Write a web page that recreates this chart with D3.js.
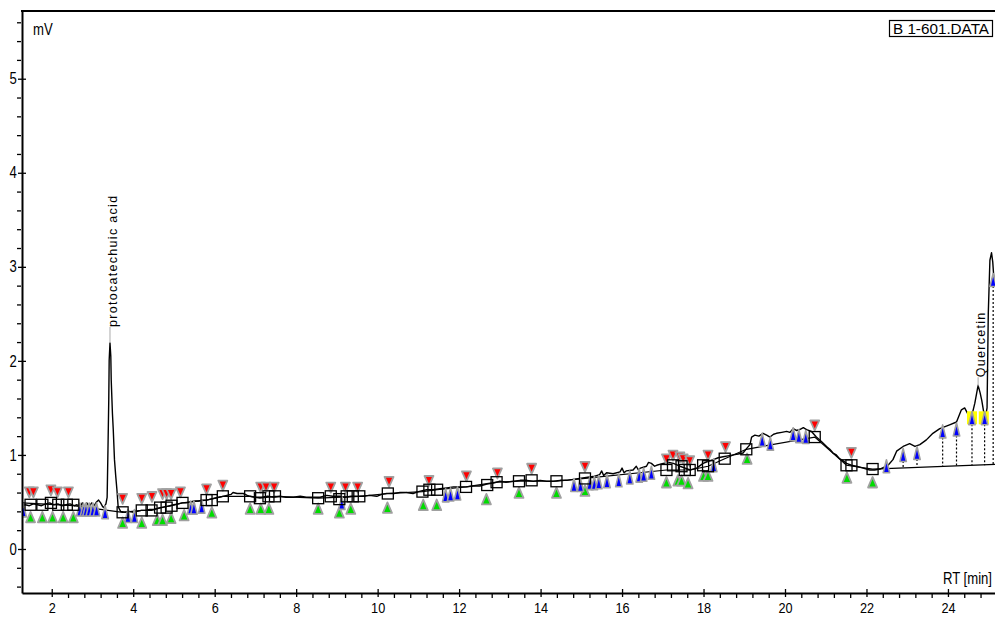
<!DOCTYPE html>
<html>
<head>
<meta charset="utf-8">
<script src="https://cdn.jsdelivr.net/npm/d3@7"></script>
<style>
  body { margin: 0; background: #fff; }
  svg { display: block; }
  text { font-family: "Liberation Sans", Arial, sans-serif; }
</style>
</head>
<body>
<svg id="chart" width="995" height="617"></svg>
<script>
// signal trace: [RT min, mV]
const trace = [
  [1.27,0.46],[1.35,0.47],[1.45,0.46],[1.55,0.48],[1.65,0.47],[1.75,0.46],[1.85,0.48],[1.95,0.49],
  [2.05,0.47],[2.15,0.48],[2.25,0.46],[2.35,0.47],[2.45,0.48],[2.55,0.46],[2.62,0.47],[2.70,0.45],
  [2.75,0.49],[2.80,0.45],[2.86,0.49],[2.92,0.45],[2.98,0.49],[3.04,0.46],[3.10,0.50],[3.15,0.52],
  [3.20,0.49],[3.25,0.45],[3.28,0.44],[3.33,0.48],[3.36,0.55],[3.38,1.05],[3.40,1.59],[3.41,2.01],
  [3.43,2.19],[3.45,2.05],[3.46,1.80],[3.49,1.44],[3.51,1.27],[3.54,0.95],[3.57,0.78],[3.60,0.63],
  [3.63,0.45],[3.69,0.40],[3.80,0.39],[3.90,0.40],[4.00,0.39],[4.10,0.40],[4.20,0.41],[4.30,0.41],
  [4.40,0.42],[4.50,0.42],[4.60,0.43],[4.70,0.44],[4.80,0.45],[4.90,0.46],[5.00,0.47],[5.10,0.48],
  [5.20,0.49],[5.30,0.49],[5.40,0.50],[5.50,0.51],[5.60,0.51],[5.70,0.52],[5.80,0.52],[5.90,0.53],
  [6.00,0.54],[6.10,0.55],[6.20,0.56],[6.30,0.57],[6.40,0.58],[6.45,0.60],[6.55,0.59],[6.70,0.59],
  [6.80,0.57],[6.87,0.56],[7.00,0.55],[7.15,0.55],[7.30,0.56],[7.45,0.55],[7.60,0.56],[7.75,0.55],
  [7.93,0.55],[8.10,0.56],[8.25,0.55],[8.42,0.55],[8.59,0.55],[8.75,0.57],[8.90,0.56],[9.07,0.56],
  [9.20,0.55],[9.35,0.56],[9.50,0.56],[9.65,0.56],[9.80,0.57],[9.98,0.56],[10.10,0.58],[10.22,0.59],
  [10.40,0.59],[10.55,0.60],[10.70,0.60],[10.87,0.59],[11.00,0.61],[11.20,0.63],[11.35,0.63],[11.53,0.64],
  [11.70,0.65],[11.86,0.66],[12.00,0.66],[12.18,0.66],[12.35,0.67],[12.51,0.67],[12.68,0.69],[12.84,0.70],
  [13.00,0.72],[13.15,0.71],[13.33,0.72],[13.50,0.73],[13.66,0.73],[13.82,0.72],[13.99,0.73],[14.15,0.72],
  [14.31,0.72],[14.48,0.73],[14.64,0.73],[14.80,0.74],[14.96,0.75],[15.12,0.76],[15.29,0.77],[15.45,0.79],
  [15.50,0.83],[15.55,0.78],[15.62,0.81],[15.78,0.80],[15.95,0.82],[16.00,0.86],[16.05,0.81],[16.10,0.83],
  [16.27,0.84],[16.35,0.88],[16.40,0.84],[16.45,0.86],[16.60,0.88],[16.65,0.92],[16.72,0.91],[16.80,0.88],
  [16.85,0.89],[17.01,0.91],[17.15,0.92],[17.26,0.91],[17.42,0.88],[17.55,0.86],[17.67,0.84],[17.83,0.86],
  [17.99,0.91],[18.10,0.93],[18.24,0.95],[18.36,0.97],[18.48,0.98],[18.60,0.99],[18.73,1.00],[18.85,1.01],
  [18.97,1.02],[19.06,1.07],[19.14,1.11],[19.18,1.19],[19.26,1.21],[19.36,1.20],[19.46,1.23],[19.55,1.21],
  [19.63,1.19],[19.72,1.22],[19.79,1.23],[19.92,1.24],[20.04,1.25],[20.12,1.24],[20.20,1.28],[20.28,1.26],
  [20.36,1.27],[20.45,1.29],[20.53,1.27],[20.65,1.25],[20.77,1.19],[20.90,1.14],[21.02,1.09],[21.10,1.06],
  [21.18,1.02],[21.26,1.00],[21.34,0.96],[21.42,0.94],[21.51,0.91],[21.63,0.89],[21.75,0.88],[21.92,0.86],
  [22.08,0.84],[22.20,0.84],[22.33,0.85],[22.53,0.89],[22.65,0.95],[22.74,1.04],[22.90,1.09],[23.06,1.12],
  [23.19,1.09],[23.31,1.11],[23.47,1.16],[23.63,1.23],[23.80,1.28],[24.04,1.32],[24.21,1.35],[24.33,1.48],
  [24.41,1.50],[24.52,1.41],[24.61,1.46],[24.66,1.55],[24.74,1.74],[24.79,1.66],[24.83,1.58],[24.88,1.45],
  [24.92,1.40],[24.96,1.50],[24.99,2.50],[25.03,3.07],[25.07,3.15],[25.10,3.05],[25.13,2.86],[25.16,2.80]
];

// integration baseline
const baseline = [
  [1.27,0.49],[2.53,0.46],[3.74,0.39],[4.21,0.41],[4.45,0.41],[4.66,0.44],[4.94,0.46],[5.21,0.49],
  [5.80,0.52],[6.20,0.56],[6.87,0.56],[7.11,0.54],[7.48,0.56],[8.54,0.54],[9.55,0.56],[10.25,0.59],
  [11.10,0.61],[11.46,0.63],[12.17,0.66],[12.92,0.71],[13.47,0.72],[14.39,0.72],[15.09,0.75],
  [17.09,0.84],[17.54,0.84],[17.66,0.84],[18.11,0.88],[18.52,0.96],[19.05,1.06],[20.73,1.19],
  [21.51,0.89],[22.15,0.85],[25.16,0.90]
];

// baseline points (open squares)
const squares = [
  [1.48,0.47],[1.77,0.47],[1.98,0.49],[2.16,0.47],[2.37,0.47],[2.53,0.47],[3.74,0.39],[4.21,0.41],
  [4.45,0.41],[4.66,0.44],[4.82,0.44],[4.94,0.46],[5.21,0.49],[5.80,0.52],[5.93,0.52],[6.20,0.56],
  [6.87,0.56],[7.11,0.54],[7.32,0.56],[7.48,0.56],[8.54,0.54],[8.85,0.56],[9.06,0.53],[9.24,0.56],
  [9.39,0.56],[9.55,0.56],[10.25,0.59],[11.10,0.61],[11.27,0.63],[11.46,0.63],[12.17,0.66],[12.69,0.68],
  [12.92,0.71],[13.47,0.72],[13.78,0.73],[14.39,0.72],[15.09,0.75],[17.09,0.84],[17.25,0.89],[17.46,0.88],
  [17.54,0.84],[17.66,0.84],[17.99,0.89],[18.11,0.88],[18.52,0.96],[19.05,1.06],[20.73,1.19],[21.51,0.89],
  [21.63,0.89],[22.15,0.85]
];

// peak start markers (red, pointing down)
const redMarks = [
  [1.45,0.47],[1.55,0.47],[1.98,0.49],[2.14,0.47],[2.41,0.47],[3.74,0.40],[4.21,0.40],[4.46,0.42],
  [4.72,0.45],[4.82,0.45],[4.93,0.45],[5.16,0.47],[5.80,0.50],[6.20,0.54],[7.13,0.52],[7.26,0.52],
  [7.46,0.52],[8.85,0.52],[9.21,0.52],[9.51,0.52],[10.28,0.58],[11.26,0.59],[12.18,0.64],[12.94,0.67],
  [13.78,0.72],[15.09,0.74],[17.09,0.82],[17.25,0.86],[17.42,0.84],[17.50,0.82],[17.66,0.80],[18.11,0.86],
  [18.54,0.95],[20.73,1.18],[21.63,0.89]
];

// peak end markers (green, pointing up)
const greenMarks = [
  [1.48,0.47],[1.77,0.47],[2.02,0.47],[2.28,0.47],[2.53,0.47],[3.74,0.41],[4.21,0.41],[4.59,0.44],
  [4.72,0.44],[4.93,0.46],[5.25,0.49],[5.93,0.52],[6.87,0.56],[7.13,0.56],[7.33,0.56],[8.54,0.56],
  [9.06,0.52],[9.34,0.56],[10.24,0.57],[11.12,0.60],[11.45,0.60],[12.67,0.66],[13.47,0.73],[14.39,0.73],
  [15.09,0.75],[17.09,0.84],[17.37,0.86],[17.46,0.86],[17.62,0.83],[18.00,0.91],[18.11,0.91],[19.07,1.09],
  [21.52,0.89],[22.15,0.84]
];

// peak apex markers (blue)
const blueMarks = [
  [1.30,0.41],[2.69,0.42],[2.78,0.42],[2.84,0.42],[2.92,0.42],[3.01,0.42],[3.10,0.42],[3.31,0.39],
  [3.87,0.35],[4.03,0.35],[5.41,0.44],[5.49,0.44],[5.68,0.45],[9.12,0.49],[11.67,0.57],[11.79,0.58],
  [11.96,0.59],[14.82,0.68],[14.98,0.68],[15.21,0.70],[15.32,0.70],[15.43,0.71],[15.63,0.72],[15.92,0.73],
  [16.19,0.76],[16.42,0.78],[16.53,0.79],[16.72,0.81],[18.25,0.89],[19.44,1.16],[19.64,1.12],[20.20,1.22],
  [20.34,1.20],[20.51,1.19],[22.49,0.88],[22.90,1.00],[23.24,1.02],[23.87,1.25],[24.21,1.27],[24.59,1.39],
  [24.90,1.39],[25.11,2.86]
];

// dropped lines: [RT, top mV, baseline mV]
const drops = [
  [22.90,1.00,0.86],[23.24,1.02,0.87],[23.87,1.25,0.88],[24.21,1.27,0.88],
  [24.59,1.39,0.89],[24.90,1.39,0.89],[25.11,2.86,0.90]
];

// identified peaks (yellow)
const idMarks = [[24.59,1.40],[24.88,1.40]];

const peakNames = ["protocatechuic acid", "Quercetin"];
const peakTimes = [3.43, 24.74];
const peakHeights = [2.19, 1.73];

const xMajor = [2,4,6,8,10,12,14,16,18,20,22,24];
const yMajor = [0,1,2,3,4,5];

const svg = d3.select("#chart");
const x = d3.scaleLinear().domain([1.27, 25.155]).range([22, 995]);
const y = d3.scaleLinear().domain([-0.468, 5.72]).range([593, 11]);
const narrow = "scale(0.82,1)";

svg.append("clipPath").attr("id", "plot")
  .append("rect").attr("x", 22).attr("y", 11).attr("width", 973).attr("height", 582);

const g = svg.append("g").attr("clip-path", "url(#plot)");
const line = d3.line().x(d => x(d[0])).y(d => y(d[1]));

g.append("path").datum(baseline)
  .attr("d", line).attr("fill", "none").attr("stroke", "#000").attr("stroke-width", 1.2);

g.append("path").datum(trace)
  .attr("d", line).attr("fill", "none").attr("stroke", "#000").attr("stroke-width", 1.4)
  .attr("stroke-linejoin", "round");

g.selectAll(".drop").data(drops).join("line")
  .attr("x1", d => x(d[0])).attr("x2", d => x(d[0]))
  .attr("y1", d => y(d[1]) + 6).attr("y2", d => y(d[2]))
  .attr("stroke", "#000").attr("stroke-width", 1.2).attr("stroke-dasharray", "2,2");

g.selectAll(".idm").data(idMarks).join("rect")
  .attr("x", d => x(d[0]) - 5).attr("y", d => y(d[1]) - 6)
  .attr("width", 10).attr("height", 13).attr("fill", "#ffff00");

// red: pointing down, above the trace
g.selectAll(".red").data(redMarks).join("path")
  .attr("d", d => { const cx = x(d[0]), cy = y(d[1]);
    return `M${cx-4.5},${cy-17.5}L${cx+4.5},${cy-17.5}L${cx},${cy-7.5}Z`; })
  .attr("fill", "#ff0000").attr("stroke", "#a0a0a0").attr("stroke-width", 1.8)
  .attr("stroke-linejoin", "round");

// green: pointing up, below the trace
g.selectAll(".green").data(greenMarks).join("path")
  .attr("d", d => { const cx = x(d[0]), cy = y(d[1]);
    return `M${cx},${cy+7}L${cx+4.5},${cy+17.5}L${cx-4.5},${cy+17.5}Z`; })
  .attr("fill", "#00dd00").attr("stroke", "#a0a0a0").attr("stroke-width", 1.8)
  .attr("stroke-linejoin", "round");

g.selectAll(".blue").data(blueMarks).join("path")
  .attr("d", d => { const cx = x(d[0]), cy = y(d[1]);
    return `M${cx},${cy-6.5}L${cx+3.2},${cy+6.5}L${cx-3.2},${cy+6.5}Z`; })
  .attr("fill", "#0000ff").attr("stroke", "#a0a0a0").attr("stroke-width", 1.6)
  .attr("stroke-linejoin", "round");

g.selectAll(".sq").data(squares).join("rect")
  .attr("x", d => x(d[0]) - 5.5).attr("y", d => y(d[1]) - 5.5)
  .attr("width", 11).attr("height", 11)
  .attr("fill", "none").attr("stroke", "#000").attr("stroke-width", 1.3);

// peak labels
const labelGap = [16, 9];
peakNames.forEach((name, i) => {
  const px = x(peakTimes[i]), py = y(peakHeights[i]);
  svg.append("line")
    .attr("x1", px).attr("x2", px).attr("y1", py).attr("y2", py - labelGap[i])
    .attr("stroke", "#aaa").attr("stroke-width", 1);
  svg.append("text")
    .attr("transform", `translate(${px + 3},${py - labelGap[i]}) rotate(-90)`)
    .attr("dy", "0.35em")
    .attr("font-size", 12.5).attr("letter-spacing", 1.3)
    .text(name);
});

// axes
const xAxis = svg.append("g").attr("transform", "translate(0,593)")
  .call(d3.axisBottom(x).tickValues(xMajor).tickFormat(d3.format("d"))
    .tickSizeInner(4).tickSizeOuter(0));
xAxis.select(".domain").attr("stroke-width", 2);
xAxis.selectAll(".tick line").attr("y1", -4).attr("y2", 4).attr("stroke-width", 1.3);
xAxis.selectAll("text").attr("font-size", 15.5).attr("font-family", null)
  .attr("y", 20.5).attr("dy", 0).attr("transform", narrow);

const xMinor = d3.range(2, 25.1, 0.4).filter(v => Math.abs(v - Math.round(v / 2) * 2) > 0.01);
svg.append("g").attr("transform", "translate(0,593)")
  .call(d3.axisBottom(x).tickValues(xMinor).tickSizeInner(5).tickSizeOuter(0).tickFormat(""))
  .call(a => a.select(".domain").remove())
  .selectAll(".tick line").attr("y1", 1).attr("stroke-width", 1.3);

const yAxis = svg.append("g").attr("transform", "translate(22,0)")
  .call(d3.axisLeft(y).tickValues(yMajor).tickFormat(d3.format("d"))
    .tickSizeInner(4).tickSizeOuter(0));
yAxis.select(".domain").attr("stroke-width", 2);
yAxis.selectAll(".tick line").attr("x1", 4).attr("x2", -4).attr("stroke-width", 1.3);
yAxis.selectAll("text").attr("font-size", 16).attr("font-family", null)
  .attr("x", -6.5).attr("transform", narrow);

const yMinor = d3.range(-0.4, 5.7, 0.2).filter(v => Math.abs(v - Math.round(v)) > 0.01);
svg.append("g").attr("transform", "translate(22,0)")
  .call(d3.axisLeft(y).tickValues(yMinor).tickSizeInner(5).tickSizeOuter(0).tickFormat(""))
  .call(a => a.select(".domain").remove())
  .selectAll(".tick line").attr("x1", -1).attr("stroke-width", 1.3);

svg.append("line").attr("x1", 21).attr("x2", 995).attr("y1", 11).attr("y2", 11)
  .attr("stroke", "#000").attr("stroke-width", 2);

svg.append("text").attr("transform", `translate(33,35) ${narrow}`)
  .attr("font-size", 16).text("mV");
svg.append("text").attr("transform", `translate(992,584) ${narrow}`)
  .attr("text-anchor", "end").attr("font-size", 16).text("RT [min]");

svg.append("rect").attr("x", 889.5).attr("y", 20.5).attr("width", 103).attr("height", 16)
  .attr("fill", "none").attr("stroke", "#000").attr("stroke-width", 1.2);
svg.append("text").attr("x", 941).attr("y", 34).attr("text-anchor", "middle")
  .attr("font-size", 15.5).attr("textLength", 96).attr("lengthAdjust", "spacingAndGlyphs")
  .text("B 1-601.DATA");
</script>
</body>
</html>
